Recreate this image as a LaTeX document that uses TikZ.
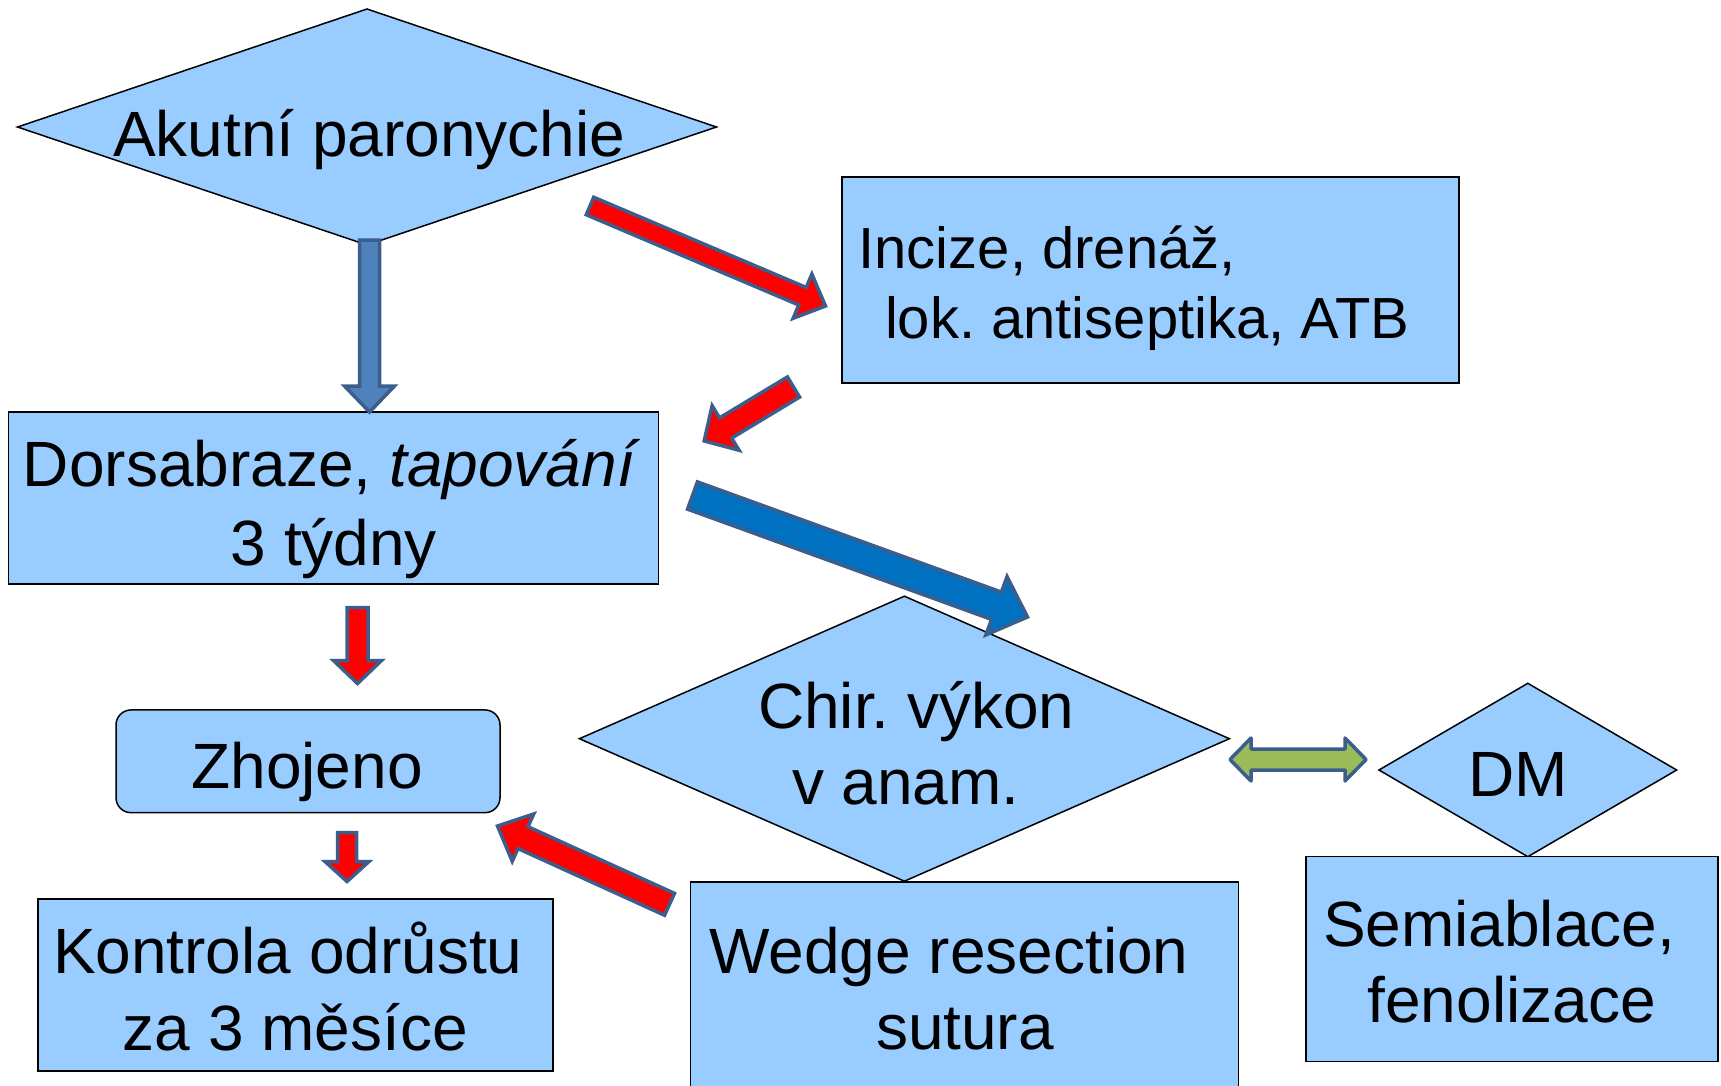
\documentclass[tikz,border=0pt]{standalone}
\usepackage{fontspec}
\setmainfont{Liberation Sans}
\usetikzlibrary{shapes.geometric,calc}
\definecolor{boxfill}{HTML}{99CCFF}
\definecolor{arrline}{HTML}{3B5E8C}
\definecolor{arrred}{HTML}{FF0000}
\definecolor{arrblue}{HTML}{4F81BD}
\definecolor{arrdeep}{HTML}{0070C0}
\definecolor{arrgreen}{HTML}{9BBB59}
\frenchspacing
\newcommand\tst{\rule[-0.25em]{0pt}{1.15em}}
\newcommand\blockarrow[6]{%
  \path let \p1=(#2), \p2=(#3), \n1={atan2(\y2-\y1,\x2-\x1)}, \n2={veclen(\x2-\x1,\y2-\y1)} in
    \pgfextra{\xdef\baAng{\n1}\xdef\baLen{\n2}\xdef\baX{\x1}\xdef\baY{\y1}};
  \draw[#1, shift={(\baX,\baY)}, rotate=\baAng] (0,-#4) -- ({\baLen-#6},-#4) -- ({\baLen-#6},-#5) -- (\baLen,0) -- ({\baLen-#6},#5) -- ({\baLen-#6},#4) -- (0,#4) -- cycle;
}
\begin{document}
\frenchspacing
\begin{tikzpicture}[x=1pt,y=1pt,
  shapebox/.style={draw=black, line width=1.5pt, fill=boxfill, rectangle, inner sep=0pt, outer sep=0pt},
  shapedia/.style={draw=black, line width=1.5pt, fill=boxfill, diamond, inner sep=0pt, outer sep=0pt},
  txt/.style={inner sep=0pt, outer sep=0pt, anchor=north west, align=left, text=black},
  big/.style={font=\fontsize{64}{77}\selectfont},
  redarr/.style={fill=arrred, draw=arrline, line width=3.5pt},
  bluearr/.style={fill=arrblue, draw=arrline, line width=3.5pt},
  deeparr/.style={fill=arrdeep, draw=arrline, line width=3.5pt},
  greenarr/.style={fill=arrgreen, draw=arrline, line width=3.5pt, line join=round}]
\fill[white] (0,0) rectangle (1721,-1085);
\path[clip] (0,0) rectangle (1721,-1085);
\useasboundingbox (0,0) rectangle (1721,-1085);

% shapes
\node[shapedia, minimum width=699pt, minimum height=236pt] (akut) at (367,-127) {};
\node[shapebox, minimum width=617pt, minimum height=206pt] (incize) at (1150.5,-280) {};
\node[shapebox, minimum width=650pt, minimum height=172pt] (dors) at (333.7,-498) {};
\node[shapebox, rounded corners=15pt, minimum width=384pt, minimum height=102.7pt] (zhoj) at (308,-761.3) {};
\node[shapebox, minimum width=515pt, minimum height=172pt] (kontr) at (295.5,-985) {};
\node[shapedia, minimum width=650pt, minimum height=285pt] (chir) at (904.4,-738.7) {};
\node[shapedia, minimum width=297.7pt, minimum height=173.4pt] (dm) at (1527.8,-770) {};
\node[shapebox, minimum width=548pt, minimum height=230pt] (wedge) at (964.4,-997) {};
\node[shapebox, minimum width=412pt, minimum height=205pt] (semi) at (1512,-959.2) {};

% texts
\node[txt, big] (tAkut) at (113,-98.4) {\tst Akutní paronychie};
\node[txt, font=\fontsize{58}{70}\selectfont] (tInc) at (858.5,-215.8) {\tst Incize, drenáž,\\\hspace*{26.5pt}\tst lok. antiseptika, ATB};
\node[txt, font=\fontsize{64}{79}\selectfont] (tDors) at (23,-428.4) {\tst Dorsabraze, \textit{tapování}\\\hspace*{207.7pt}\tst 3 týdny};
\node[txt, big] (tZhoj) at (191.5,-730.4) {\tst Zhojeno};
\node[txt, big] (tKontr) at (53,-915.4) {\tst Kontrola odrůstu\\\hspace*{69.7pt}\tst za 3 měsíce};
\node[txt, font=\fontsize{64}{76}\selectfont] (tChir) at (758,-670.4) {\tst Chir. výkon\\\hspace*{34pt}\tst v anam.};
\node[txt, font=\fontsize{64}{76}\selectfont] (tWedge) at (709.5,-915.4) {\tst Wedge resection\\\hspace*{166.5pt}\tst sutura};
\node[txt, big] (tDM) at (1468,-738.9) {\tst DM};
\node[txt, font=\fontsize{64}{76}\selectfont] (tSemi) at (1323,-889.1) {\tst Semiablace,\\\hspace*{44.5pt}\tst fenolizace};

% arrow end points
\coordinate (aDs) at (369.5,-240);   \coordinate (aDe) at (369.5,-412);
\coordinate (aIs) at (590,-206);     \coordinate (aIe) at (825.5,-306);
\coordinate (aRs) at (793.5,-387);   \coordinate (aRe) at (704,-441);
\coordinate (aCs) at (692.5,-495.5); \coordinate (aCe) at (1027.5,-617);
\coordinate (aZs) at (357.5,-607.5); \coordinate (aZe) at (357.5,-683.5);
\coordinate (aKs) at (347,-832.5);   \coordinate (aKe) at (347,-881.5);
\coordinate (aWs) at (669.5,-904.3); \coordinate (aWe) at (497.5,-826);
\coordinate (gL) at (1230,-759.5);   \coordinate (gR) at (1366,-759.5);

% arrows
\blockarrow{bluearr}{aDs}{aDe}{10}{25}{26}
\blockarrow{redarr}{aIs}{aIe}{9.5}{24}{25}
\blockarrow{redarr}{aRs}{aRe}{11.75}{26}{25}
\blockarrow{deeparr}{aCs}{aCe}{14.5}{31}{33}
\blockarrow{redarr}{aZs}{aZe}{10.5}{24}{23}
\blockarrow{redarr}{aKs}{aKe}{9.5}{22}{20}
\blockarrow{redarr}{aWs}{aWe}{12}{26}{28}
\draw[greenarr] let \p1=(gL), \p2=(gR) in
  (\x1,\y1) -- (\x1+21,\y1+21.5) -- (\x1+21,\y1+10.5) -- (\x2-21,\y1+10.5) -- (\x2-21,\y1+21.5)
  -- (\x2,\y1) -- (\x2-21,\y1-21.5) -- (\x2-21,\y1-10.5) -- (\x1+21,\y1-10.5) -- (\x1+21,\y1-21.5) -- cycle;
\end{tikzpicture}
\end{document}
